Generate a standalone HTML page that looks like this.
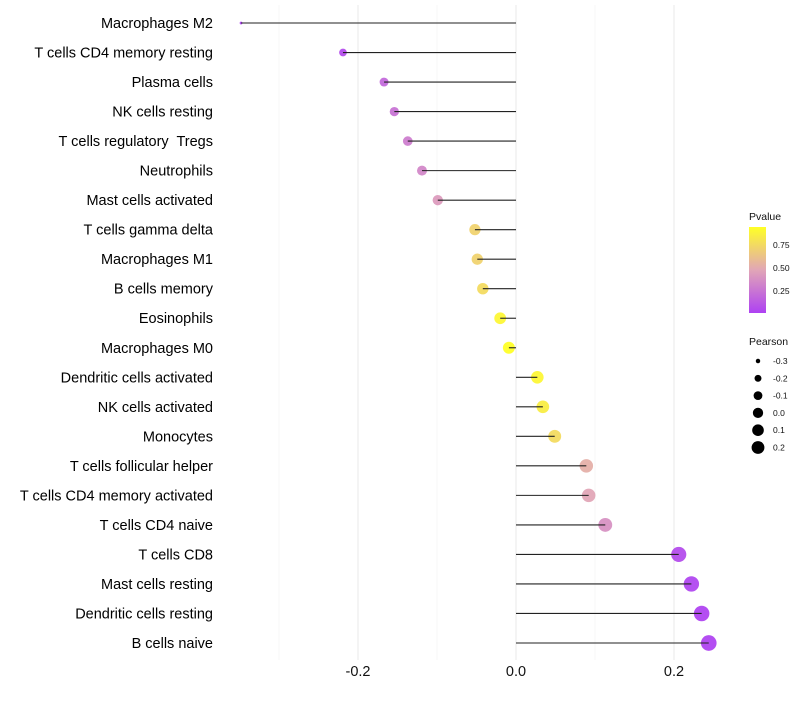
<!DOCTYPE html>
<html><head><meta charset="utf-8"><style>
body{margin:0;background:#fff;font-family:"Liberation Sans",sans-serif}
svg text{font-family:"Liberation Sans",sans-serif;white-space:pre}
</style></head><body>
<svg id="chart" width="800" height="700">
<defs><linearGradient id="pg" x1="0" y1="1" x2="0" y2="0">
<stop offset="0" stop-color="#a020f0"/><stop offset="0.5" stop-color="#dc96aa"/><stop offset="1" stop-color="#ffff00"/></linearGradient></defs>
<g id="grid"></g><g id="dots"></g><g id="marks"></g><g id="labels"></g><g id="legend"></g>
</svg>
<script>
const categories=["Macrophages M2","T cells CD4 memory resting","Plasma cells","NK cells resting","T cells regulatory  Tregs","Neutrophils","Mast cells activated","T cells gamma delta","Macrophages M1","B cells memory","Eosinophils","Macrophages M0","Dendritic cells activated","NK cells activated","Monocytes","T cells follicular helper","T cells CD4 memory activated","T cells CD4 naive","T cells CD8","Mast cells resting","Dendritic cells resting","B cells naive"];
const pearson=[-0.348,-0.219,-0.167,-0.154,-0.137,-0.119,-0.099,-0.052,-0.049,-0.042,-0.020,-0.009,0.027,0.034,0.049,0.089,0.092,0.113,0.206,0.222,0.235,0.244];
const pvalues=[0.0,0.05,0.2,0.25,0.3,0.35,0.45,0.75,0.75,0.8,0.95,1.0,0.95,0.9,0.8,0.55,0.5,0.4,0.05,0.02,0.01,0.01];
const xTicks=[-0.2,0,0.2];
const xMinor=[-0.3,-0.1,0.1];
const NS="http://www.w3.org/2000/svg";
function x(v){return 516+v*790;}
function y(i){return 23+i*(620/21);}
function r(v){return Math.sqrt(2+Math.max(0,v+0.348)*100);}
function col(p){const a=[160,32,240],m=[220,150,170],b=[255,255,0];let c;
 if(p<0.5){const t=p/0.5;c=a.map((q,k)=>q+(m[k]-q)*t);}else{const t=(p-0.5)/0.5;c=m.map((q,k)=>q+(b[k]-q)*t);}
 return `rgb(${c.map(Math.round).join(',')})`;}
function mk(tag,attrs,parent){const e=document.createElementNS(NS,tag);for(const k in attrs)e.setAttribute(k,attrs[k]);document.getElementById(parent).appendChild(e);return e;}
xMinor.forEach(v=>{const l=mk('line',{x1:x(v),x2:x(v),y1:5,y2:660,stroke:'#f2f2f2','stroke-width':0.6},'grid');

});
xTicks.forEach(v=>{const l=mk('line',{x1:x(v),x2:x(v),y1:5,y2:660,stroke:'#ebebeb','stroke-width':1.1},'grid');


const t=mk('text',{x:x(v),y:676,'text-anchor':'middle','font-size':14.5,fill:'#111'},'labels');t.textContent=v===0?'0.0':v.toFixed(1);

});
categories.forEach((c,i)=>{
 const d=mk('circle',{cx:x(pearson[i]),cy:y(i),r:r(pearson[i]),fill:col(pvalues[i]),'fill-opacity':0.8},'dots');
 
 
 const l=mk('line',{x1:x(0),x2:x(pearson[i]),y1:y(i),y2:y(i),stroke:'#222','stroke-width':1.1},'marks');
 
 
 const t=mk('text',{x:213,y:y(i)+5,'text-anchor':'end','font-size':14.5,fill:'#000'},'labels');t.textContent=c;
 
 
});
const lg=[['text',{x:749,y:220,'font-size':10.5,fill:'#111'},'Pvalue','pvalue-legend-title'],
['rect',{x:749,y:227,width:17,height:86,fill:'url(#pg)','fill-opacity':0.85},null,'pvalue-colorbar'],
['text',{x:773,y:248,'font-size':8.5,fill:'#111'},'0.75','colorbar-label'],
['text',{x:773,y:271,'font-size':8.5,fill:'#111'},'0.50','colorbar-label'],
['text',{x:773,y:294,'font-size':8.5,fill:'#111'},'0.25','colorbar-label'],
['text',{x:749,y:345,'font-size':10.5,fill:'#111'},'Pearson','pearson-legend-title']];
lg.forEach(([tag,a,txt,nm])=>{const e=mk(tag,a,'legend');if(txt)e.textContent=txt;

});
const sizeVals=[-0.3,-0.2,-0.1,0.0,0.1,0.2];
sizeVals.forEach((v,i)=>{const cy=361+i*17.3;
 const c=mk('circle',{cx:758,cy:cy,r:r(v)*0.85,fill:'#000'},'legend');
 
 
 const t=mk('text',{x:773,y:cy+3,'font-size':8.5,fill:'#111'},'legend');t.textContent=v.toFixed(1);
 
 });
</script>
</body></html>
